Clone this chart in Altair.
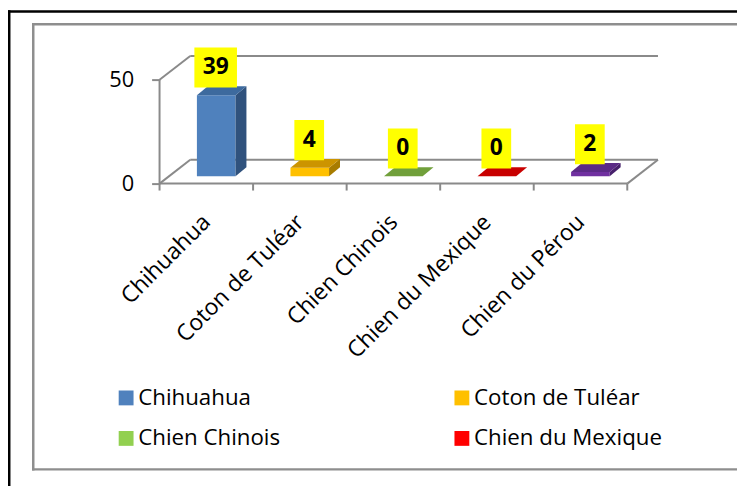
import json
import altair as alt
import pandas as pd

# ---- data ----
categories = ["Chihuahua", "Coton de Tuléar", "Chien Chinois", "Chien du Mexique", "Chien du Pérou"]
values = [39, 4, 0, 0, 2]
front_colors = ["#4F81BD", "#FFC000", "#92D050", "#FF0000", "#7030A0"]
top_colors = ["#3D6A9E", "#CC9400", "#71A03B", "#C80000", "#5B2A86"]
side_colors = ["#30527D", "#A87C00", "#5E8A30", "#A00000", "#47206C"]
y_ticks = [0, 50]
legend_entries = categories[:4]

FONT = "Open Sans"
GRAY = "#8A8A8A"

# ---- geometry of the pseudo-3D plot (scale units) ----
W, H = 510, 130
X_MAX, Y_MAX = 5.4, 62
PX = W / X_MAX
PY = H / Y_MAX
N = len(categories)
DX, DY = 31 / PX, 24 / PY          # floor depth
BDX, BDY = 11 / PX, 9 / PY         # bar depth
FX, FY = DX / 2 - BDX / 2, DY / 2 - BDY / 2
BAR_HALF = 19.5 / PX

front_rows, side_rows, top_rows, lab_rows = [], [], [], []
for i, (c, v) in enumerate(zip(categories, values)):
    cx = i + 0.5 + FX
    xl, xr = cx - BAR_HALF, cx + BAR_HALF
    front_rows.append(dict(cat=c, x=xl, x2=xr, y=FY, y2=v + FY))
    side_rows.append(dict(cat=c, x=xr, y=FY, y2=v + FY, col=side_colors[i]))
    side_rows.append(dict(cat=c, x=xr + BDX, y=FY + BDY, y2=v + FY + BDY, col=side_colors[i]))
    top_rows.append(dict(cat=c, y=v + FY, x=xl, x2=xr, col=top_colors[i]))
    top_rows.append(dict(cat=c, y=v + FY + BDY, x=xl + BDX, x2=xr + BDX, col=top_colors[i]))
    n = len(str(v))
    hw = (8.5 + 6.5 * n) / PX
    lc = i + 0.5 + 0.1
    yb = v + FY + BDY - 0.6
    yt = yb + 40.5 / PY
    lab_rows.append(dict(cat=c, label=str(v), x=lc - hw, x2=lc + hw, y=yb, y2=yt, xc=lc, yc=(yb + yt) / 2))

seg_rows = [dict(x=0, x2=N, y=0, y2=0), dict(x=0, x2=0, y=0, y2=max(y_ticks)),
            dict(x=N, x2=N + DX, y=0, y2=DY)]
for t in y_ticks:
    seg_rows.append(dict(x=0, x2=DX, y=t, y2=t + DY))
    seg_rows.append(dict(x=DX, x2=N + DX, y=t + DY, y2=t + DY))
tick_rows = [dict(x=k, y=0, y2=-7 / PY) for k in range(N + 1)]

xs = alt.Scale(domain=[0, X_MAX], nice=False, zero=False)
ys = alt.Scale(domain=[0, Y_MAX], nice=False, zero=False)

label_expr = json.dumps(categories) + "[round(datum.value - 0.5)]"
x_axis = alt.Axis(values=[i + 0.5 for i in range(N)], labelExpr=label_expr, domain=False,
                  ticks=False, tickSize=0, grid=False, labelAngle=315, labelAlign="right",
                  labelBaseline="middle", labelPadding=35, labelOffset=0, labelFont=FONT,
                  labelFontSize=23, labelColor="black", labelOverlap=False, labelLimit=500,
                  title=None)
y_axis = alt.Axis(values=y_ticks, domain=False, grid=False, tickSize=8, tickWidth=2,
                  tickColor=GRAY, labelPadding=18, labelFont=FONT, labelFontSize=22,
                  labelColor="black", title=None)


def X(f):
    return alt.X(f, scale=xs, axis=x_axis, title=None)


def Y(f):
    return alt.Y(f, scale=ys, axis=y_axis, title=None)


one = pd.DataFrame([dict(k=1)])
outer_left = alt.Chart(one).mark_rule(stroke="black", strokeWidth=2.5).encode(
    x=alt.value(-151.75), y=alt.value(-45), y2=alt.value(440))
outer_top = alt.Chart(one).mark_rule(stroke="black", strokeWidth=2.5).encode(
    x=alt.value(-153), x2=alt.value(600), y=alt.value(-43.75))
inner_left = alt.Chart(one).mark_rule(stroke="#8E8E8E", strokeWidth=2.5).encode(
    x=alt.value(-127.5), y=alt.value(-32.25), y2=alt.value(419.75))
inner_top = alt.Chart(one).mark_rule(stroke="#8E8E8E", strokeWidth=2.5).encode(
    x=alt.value(-128.75), x2=alt.value(600), y=alt.value(-31))
inner_bottom = alt.Chart(one).mark_rule(stroke="#8E8E8E", strokeWidth=2.5).encode(
    x=alt.value(-128.75), x2=alt.value(600), y=alt.value(418.5))

segs = alt.Chart(pd.DataFrame(seg_rows)).mark_rule(stroke=GRAY, strokeWidth=2).encode(
    x=X("x:Q"), x2="x2:Q", y=Y("y:Q"), y2="y2:Q")
ticks = alt.Chart(pd.DataFrame(tick_rows)).mark_rule(stroke=GRAY, strokeWidth=2).encode(
    x=X("x:Q"), y=Y("y:Q"), y2="y2:Q")

front = alt.Chart(pd.DataFrame(front_rows)).mark_rect().encode(
    x=X("x:Q"), x2="x2:Q", y=Y("y:Q"), y2="y2:Q",
    color=alt.Color("cat:N", scale=alt.Scale(domain=categories, range=front_colors),
                    legend=alt.Legend(title=None, values=legend_entries, orient="none", legendX=-45,
                                      legendY=335, columns=2, direction="horizontal",
                                      columnPadding=172, rowPadding=18,
                                      symbolType="square", symbolSize=225, symbolStrokeWidth=0,
                                      symbolOpacity=1, labelOffset=1, labelFont=FONT,
                                      labelFontSize=22.5, labelColor="black", labelLimit=500,
                                      padding=0)),
)

side = alt.Chart(pd.DataFrame(side_rows)).mark_area(orient="vertical").encode(
    x=X("x:Q"), y=Y("y:Q"), y2="y2:Q",
    detail="cat:N", fill=alt.Fill("col:N", scale=None))
top = alt.Chart(pd.DataFrame(top_rows)).mark_area(orient="horizontal").encode(
    y=Y("y:Q"), x=X("x:Q"), x2="x2:Q",
    detail="cat:N", fill=alt.Fill("col:N", scale=None))

lab_df = pd.DataFrame(lab_rows)
boxes = alt.Chart(lab_df).mark_rect(fill="#FFFF00").encode(
    x=X("x:Q"), x2="x2:Q", y=Y("y:Q"), y2="y2:Q")
texts = alt.Chart(lab_df).mark_text(font=FONT, fontSize=23, fontWeight="bold", color="black",
                                    baseline="middle", align="center").encode(
    x=X("xc:Q"), y=Y("yc:Q"), text="label:N")

chart = alt.layer(outer_left, outer_top, inner_left, inner_top, inner_bottom,
                  segs, ticks, front, side, top, boxes, texts).properties(
    width=W, height=H,
    autosize=alt.AutoSizeParams(type="none"),
    padding={"left": 153, "top": 45, "right": 736 - 153 - W, "bottom": 478 - 45 - H},
).configure_view(stroke=None)

chart.save("out.html", embed_options={"renderer": "svg", "actions": False})
